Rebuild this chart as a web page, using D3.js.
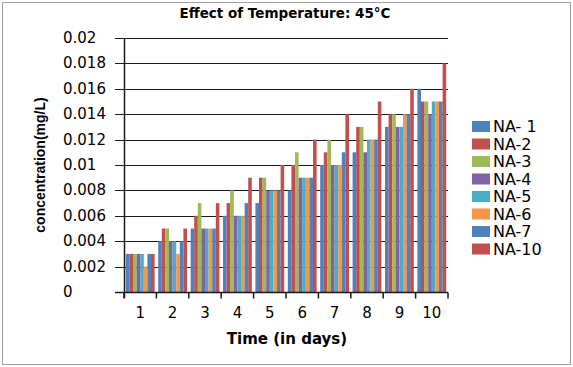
<!DOCTYPE html>
<html>
<head>
<meta charset="utf-8">
<script src="https://cdn.jsdelivr.net/npm/d3@7"></script>
<style>
  body { margin: 0; background: #fff; }
  svg { display: block; }
</style>
</head>
<body>
<div id="chart"></div>
<script>
// data (mg/L)
var days = ["1", "2", "3", "4", "5", "6", "7", "8", "9", "10"];
var seriesNames = ["NA- 1", "NA-2", "NA-3", "NA-4", "NA-5", "NA-6", "NA-7", "NA-10"];
var seriesColors = ["#4F81BD", "#C0504D", "#9BBB59", "#8064A2", "#4BACC6", "#F79646", "#4F81BD", "#C0504D"];
var NA1  = [0.003, 0.004, 0.005, 0.006, 0.007, 0.008, 0.010, 0.011, 0.013, 0.016];
var NA2  = [0.003, 0.005, 0.006, 0.007, 0.009, 0.010, 0.011, 0.013, 0.014, 0.015];
var NA3  = [0.003, 0.005, 0.007, 0.008, 0.009, 0.011, 0.012, 0.013, 0.014, 0.015];
var NA4  = [0.003, 0.004, 0.005, 0.006, 0.008, 0.009, 0.010, 0.011, 0.013, 0.014];
var NA5  = [0.003, 0.004, 0.005, 0.006, 0.008, 0.009, 0.010, 0.012, 0.013, 0.015];
var NA6  = [0.002, 0.003, 0.005, 0.006, 0.008, 0.009, 0.010, 0.012, 0.014, 0.015];
var NA7  = [0.003, 0.004, 0.005, 0.007, 0.008, 0.009, 0.011, 0.012, 0.014, 0.015];
var NA10 = [0.003, 0.005, 0.007, 0.009, 0.010, 0.012, 0.014, 0.015, 0.016, 0.018];
var yTicks = [0, 0.002, 0.004, 0.006, 0.008, 0.01, 0.012, 0.014, 0.016, 0.018, 0.02];

var allSeries = [NA1, NA2, NA3, NA4, NA5, NA6, NA7, NA10];

var W = 573, H = 367;
var plot = {left: 124, right: 448, top: 38, bottom: 292};

var svg = d3.select("#chart").append("svg")
  .attr("width", W)
  .attr("height", H);

// outer frame
svg.append("rect")
  .attr("x", 2.5).attr("y", 2.5)
  .attr("width", W - 5).attr("height", H - 5)
  .attr("fill", "#fff")
  .attr("stroke", "#a0a0a0");

var x0 = d3.scaleBand()
  .domain(days)
  .range([plot.left, plot.right])
  .paddingInner(1 / 9)
  .paddingOuter(1 / 18);

var x1 = d3.scaleBand()
  .domain(d3.range(seriesNames.length))
  .range([0, x0.bandwidth()]);

var y = d3.scaleLinear()
  .domain([0, 0.02])
  .range([plot.bottom, plot.top]);

// gridlines
svg.append("g")
  .selectAll("line")
  .data(yTicks)
  .enter()
  .append("line")
    .attr("x1", plot.left - 9)
    .attr("x2", plot.right)
    .attr("y1", function(d){ return Math.round(y(d)) + 0.5; })
    .attr("y2", function(d){ return Math.round(y(d)) + 0.5; })
    .attr("stroke", "#1a1a1a")
    .attr("stroke-width", 1.2);

// bars
var groups = svg.append("g")
  .selectAll("g")
  .data(days)
  .enter()
  .append("g")
    .attr("transform", function(d){ return "translate(" + x0(d) + ",0)"; });

groups.selectAll("rect")
  .data(function(d, i){
    return allSeries.map(function(s, k){ return {k: k, v: s[i]}; });
  })
  .enter()
  .append("rect")
    .attr("x", function(d){ return x1(d.k); })
    .attr("width", x1.bandwidth())
    .attr("y", function(d){ return y(d.v); })
    .attr("height", function(d){ return y(0) - y(d.v); })
    .attr("fill", function(d){ return seriesColors[d.k]; });

// y axis line + x axis
svg.append("line")
  .attr("x1", plot.left + 0.5).attr("x2", plot.left + 0.5)
  .attr("y1", plot.top).attr("y2", plot.bottom + 6)
  .attr("stroke", "#1a1a1a").attr("stroke-width", 1.5);

var xAxis = svg.append("g")
  .attr("transform", "translate(0," + (plot.bottom + 0.5) + ")");
xAxis.append("line")
  .attr("x1", plot.left - 9).attr("x2", plot.right)
  .attr("stroke", "#1a1a1a").attr("stroke-width", 1.5);
xAxis.selectAll(".tk")
  .data(d3.range(days.length + 1))
  .enter()
  .append("line")
    .attr("x1", function(i){ return plot.left + i * x0.step(); })
    .attr("x2", function(i){ return plot.left + i * x0.step(); })
    .attr("y1", 0).attr("y2", 6)
    .attr("stroke", "#1a1a1a").attr("stroke-width", 1.5);

xAxis.selectAll("text")
  .data(days)
  .enter()
  .append("text")
    .attr("x", function(d){ return x0(d) + x0.bandwidth() / 2; })
    .attr("y", 25)
    .attr("text-anchor", "middle")
    .style("font", "15px 'DejaVu Sans', sans-serif")
    .text(function(d){ return d; });

// y tick labels
svg.append("g")
  .selectAll("text")
  .data(yTicks)
  .enter()
  .append("text")
    .attr("x", 63)
    .attr("y", function(d){ return y(d) + 5; })
    .style("font", "15px 'DejaVu Sans', sans-serif")
    .text(function(d){ return d3.format("")(d); });

// titles
svg.append("text")
  .attr("x", 285).attr("y", 18)
  .attr("text-anchor", "middle")
  .style("font", "bold 13.5px 'DejaVu Sans', sans-serif")
  .text("Effect of Temperature: 45°C");

svg.append("text")
  .attr("x", 287).attr("y", 344)
  .attr("text-anchor", "middle")
  .style("font", "bold 15px 'DejaVu Sans', sans-serif")
  .text("Time (in days)");

svg.append("text")
  .attr("transform", "translate(45," + ((plot.top + plot.bottom) / 2) + ") rotate(-90)")
  .attr("text-anchor", "middle")
  .style("font", "bold 14px 'Liberation Sans Narrow', 'Liberation Sans', sans-serif")
  .text("concentration(mg/L)");

// legend
var legend = svg.append("g")
  .attr("transform", "translate(472,121)");
var items = legend.selectAll("g")
  .data(seriesNames)
  .enter()
  .append("g")
    .attr("transform", function(d, i){ return "translate(0," + (i * 17.5) + ")"; });
items.append("rect")
  .attr("width", 18).attr("height", 11)
  .attr("fill", function(d, i){ return seriesColors[i]; });
items.append("text")
  .attr("x", 21).attr("y", 11)
  .style("font", "16px 'DejaVu Sans', sans-serif")
  .text(function(d){ return d; });
</script>
</body>
</html>
